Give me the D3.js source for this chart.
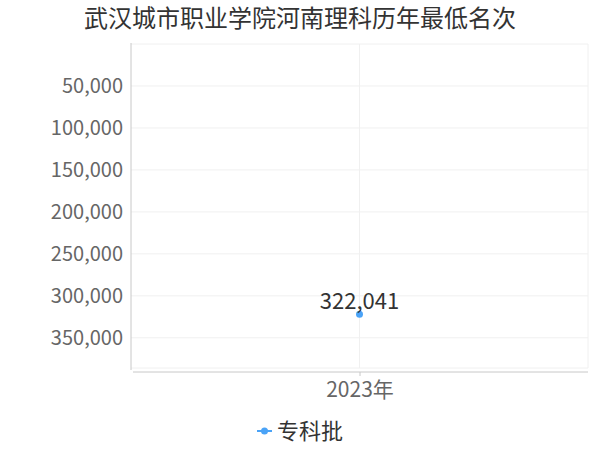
<!DOCTYPE html>
<html>
<head>
<meta charset="utf-8">
<script src="https://cdn.jsdelivr.net/npm/d3@7"></script>
<style>
  body { margin: 0; background: #fff; }
  text { font-family: "Noto Sans CJK SC", "Noto Sans", sans-serif; }
</style>
</head>
<body>
<svg width="600" height="450"></svg>
<script>
const title = "武汉城市职业学院河南理科历年最低名次";
const years = ["2023年"];
const seriesName = "专科批";
const ranks = [322041];
const yTicks = [50000, 100000, 150000, 200000, 250000, 300000, 350000];

const svg = d3.select("svg");
const plotLeft = 131, plotRight = 588, plotTop = 44, plotBottom = 368;
const blue = "#4aa3f7";

const x = d3.scalePoint().domain(years).range([plotLeft, plotRight]).padding(0.5);
const y = d3.scaleLinear().domain([0, 386000]).range([plotTop, plotBottom]);

// grid
svg.append("g")
  .selectAll("line")
  .data([0].concat(yTicks))
  .enter()
  .append("line")
  .attr("x1", plotLeft)
  .attr("x2", plotRight)
  .attr("y1", (d) => y(d))
  .attr("y2", (d) => y(d))
  .attr("stroke", "#f0f0f0");

svg.append("line")
  .attr("x1", plotLeft).attr("x2", plotRight)
  .attr("y1", plotBottom).attr("y2", plotBottom)
  .attr("stroke", "#f0f0f0");

svg.append("line")
  .attr("x1", plotRight).attr("x2", plotRight)
  .attr("y1", plotTop).attr("y2", plotBottom)
  .attr("stroke", "#f0f0f0");

svg.selectAll(".vgrid")
  .data(years)
  .enter()
  .append("line")
  .attr("class", "vgrid")
  .attr("x1", (d) => x(d)).attr("x2", (d) => x(d))
  .attr("y1", plotTop).attr("y2", plotBottom)
  .attr("stroke", "#f0f0f0");

// y axis
const yAxis = d3.axisLeft(y).tickValues(yTicks).tickFormat(d3.format(",")).tickSize(0).tickPadding(8);
const gy = svg.append("g").attr("transform", `translate(${plotLeft},0)`).call(yAxis);
gy.select(".domain").attr("stroke", "#c8c8c8").attr("d", `M0,${plotTop - 1}V${plotBottom + 2}`);
gy.selectAll("text").attr("fill", "#666").style("font-size", "20px");

// x axis
const xAxis = d3.axisBottom(x).tickSize(4).tickPadding(6);
const gx = svg.append("g").attr("transform", `translate(0,372)`).call(xAxis);
gx.select(".domain").attr("stroke", "#c8c8c8").attr("d", `M${plotLeft + 2},0H${plotRight}`);
gx.selectAll(".tick line").attr("stroke", "#c8c8c8");
gx.selectAll("text").attr("fill", "#666").style("font-size", "21px");

// points
svg.selectAll(".dot")
  .data(ranks)
  .enter()
  .append("circle")
  .attr("class", "dot")
  .attr("cx", (d, i) => x(years[i]))
  .attr("cy", (d) => y(d))
  .attr("r", 3.5)
  .attr("fill", blue);

svg.selectAll(".lbl")
  .data(ranks)
  .enter()
  .append("text")
  .attr("class", "lbl")
  .attr("x", (d, i) => x(years[i]))
  .attr("y", (d) => y(d) - 5)
  .attr("text-anchor", "middle")
  .attr("fill", "#333")
  .style("font-size", "22px")
  .text((d) => d3.format(",")(d));

// title
svg.append("text")
  .attr("x", 300)
  .attr("y", 27)
  .attr("text-anchor", "middle")
  .attr("fill", "#333")
  .style("font-size", "24px")
  .text(title);

// legend
svg.append("line")
  .attr("x1", 257).attr("x2", 272)
  .attr("y1", 431).attr("y2", 431)
  .attr("stroke", blue).attr("stroke-width", 2);
svg.append("circle")
  .attr("cx", 264.5).attr("cy", 431).attr("r", 3.5)
  .attr("fill", blue);
svg.append("text")
  .attr("x", 277)
  .attr("y", 439)
  .attr("fill", "#333")
  .style("font-size", "22px")
  .text(seriesName);
</script>
</body>
</html>
